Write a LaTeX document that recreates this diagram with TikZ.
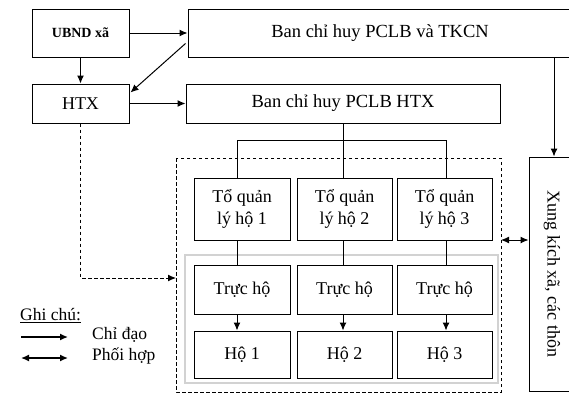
\documentclass[tikz,border=0pt]{standalone}
\usepackage{fontspec}
\setmainfont{Liberation Serif}
\usetikzlibrary{arrows.meta,calc}
\begin{document}
\begin{tikzpicture}[x=1pt,y=-1pt,
  box/.style={draw,line width=1pt,inner sep=0pt,align=center,font=\fontsize{18}{21.5}\selectfont},
  link/.style={line width=1pt},
  arr/.style={line width=1pt,-{Latex[length=8pt,width=7pt]}},
  darr/.style={line width=1pt,{Latex[length=8pt,width=7pt]}-{Latex[length=8pt,width=7pt]}},
  dashline/.style={line width=1pt,dash pattern=on 3.5pt off 2.5pt},
  lbl/.style={inner sep=0pt,anchor=west,font=\fontsize{17.5}{20}\selectfont}]
\useasboundingbox (0,0) rectangle (569,394);
\begin{scope}
\clip (0,0) rectangle (569,394);
% top level
\node[box,minimum width=97pt,minimum height=48pt,font=\bfseries\fontsize{14}{16}\selectfont] (ubnd) at (80.5,33) {UBND xã};
\node[box,minimum width=384pt,minimum height=48pt,font=\fontsize{18.5}{22}\selectfont] (tkcn) at (380,33) {Ban chỉ huy PCLB và TKCN};
\node[box,minimum width=97pt,minimum height=39pt] (htx) at (80.5,103.5) {HTX};
\node[box,minimum width=314pt,minimum height=39pt,font=\fontsize{18.5}{22}\selectfont] (banhtx) at (343,103.5) {Ban chỉ huy PCLB HTX};
% right box
\node[box,minimum width=46pt,minimum height=234pt] (xk) at (552,274) {};
\node[inner sep=0pt,rotate=-90,font=\fontsize{18}{21}\selectfont] (xkt) at (xk.center) {Xung kích xã, các thôn};
% groups
\draw[dashline] (176,158) rectangle (501,392);
\draw[gray!35,line width=1.2pt] (185,255) rectangle (498,383);
% tổ
\node[box,minimum width=96pt,minimum height=62pt] (to1) at (242,209) {Tổ quản\\lý hộ 1};
\node[box,minimum width=95pt,minimum height=62pt] (to2) at (344.5,209) {Tổ quản\\lý hộ 2};
\node[box,minimum width=95pt,minimum height=62pt] (to3) at (444.5,209) {Tổ quản\\lý hộ 3};
\node[box,minimum width=96pt,minimum height=49pt] (tr1) at (242,289.5) {Trực hộ};
\node[box,minimum width=95pt,minimum height=49pt] (tr2) at (344.5,289.5) {Trực hộ};
\node[box,minimum width=95pt,minimum height=49pt] (tr3) at (444.5,289.5) {Trực hộ};
\node[box,minimum width=96pt,minimum height=47pt] (ho1) at (242,354.5) {Hộ 1};
\node[box,minimum width=95pt,minimum height=47pt] (ho2) at (344.5,354.5) {Hộ 2};
\node[box,minimum width=95pt,minimum height=47pt] (ho3) at (444.5,354.5) {Hộ 3};
% tree coordinates
\coordinate (c1) at (237,140);
\coordinate (c2) at (343,140);
\coordinate (c3) at (446,140);
\draw[link] (banhtx.south -| c2) -- (c2);
\draw[link] (c1 |- to1.north) -- (c1) -- (c3) -- (c3 |- to3.north);
\draw[link] (c2) -- (c2 |- to2.north);
\draw[link] (c1 |- to1.south) -- (c1 |- tr1.north);
\draw[link] (c2 |- to2.south) -- (c2 |- tr2.north);
\draw[link] (c3 |- to3.south) -- (c3 |- tr3.north);
\draw[arr] (c1 |- tr1.south) -- (c1 |- ho1.north);
\draw[arr] (c2 |- tr2.south) -- (c2 |- ho2.north);
\draw[arr] (c3 |- tr3.south) -- (c3 |- ho3.north);
% top arrows
\draw[arr] (ubnd.east) -- (tkcn.west);
\draw[arr] (ubnd.south) -- (htx.north);
\draw[arr] ($(tkcn.south west)+(-2,-14)$) -- ($(htx.north east)+(1,9)$);
\draw[arr] (htx.east) -- (banhtx.west);
\coordinate (tx) at (554,57);
\draw[arr] (tkcn.south -| tx) -- (xk.north -| tx);
% dashed from HTX
\coordinate (dl) at (176,278);
\draw[dashline,-{Latex[length=8pt,width=7pt]}] (htx.south) |- (dl);
% double arrow
\coordinate (dr) at (501,240);
\draw[darr] (dr) -- (xk.west |- dr);
\end{scope}
% legend
\node[lbl] (gc) at (20,316) {\underline{Ghi chú:}};
\coordinate (l1a) at (21,337);
\coordinate (l1b) at (68,337);
\draw[arr,line width=1.4pt] (l1a) -- (l1b);
\node[lbl] (cd) at (92,335) {Chỉ đạo};
\coordinate (l2a) at (21,358);
\coordinate (l2b) at (68,358);
\draw[darr,line width=1.4pt] (l2a) -- (l2b);
\node[lbl] (ph) at (92,356) {Phối hợp};
\end{tikzpicture}
\end{document}
